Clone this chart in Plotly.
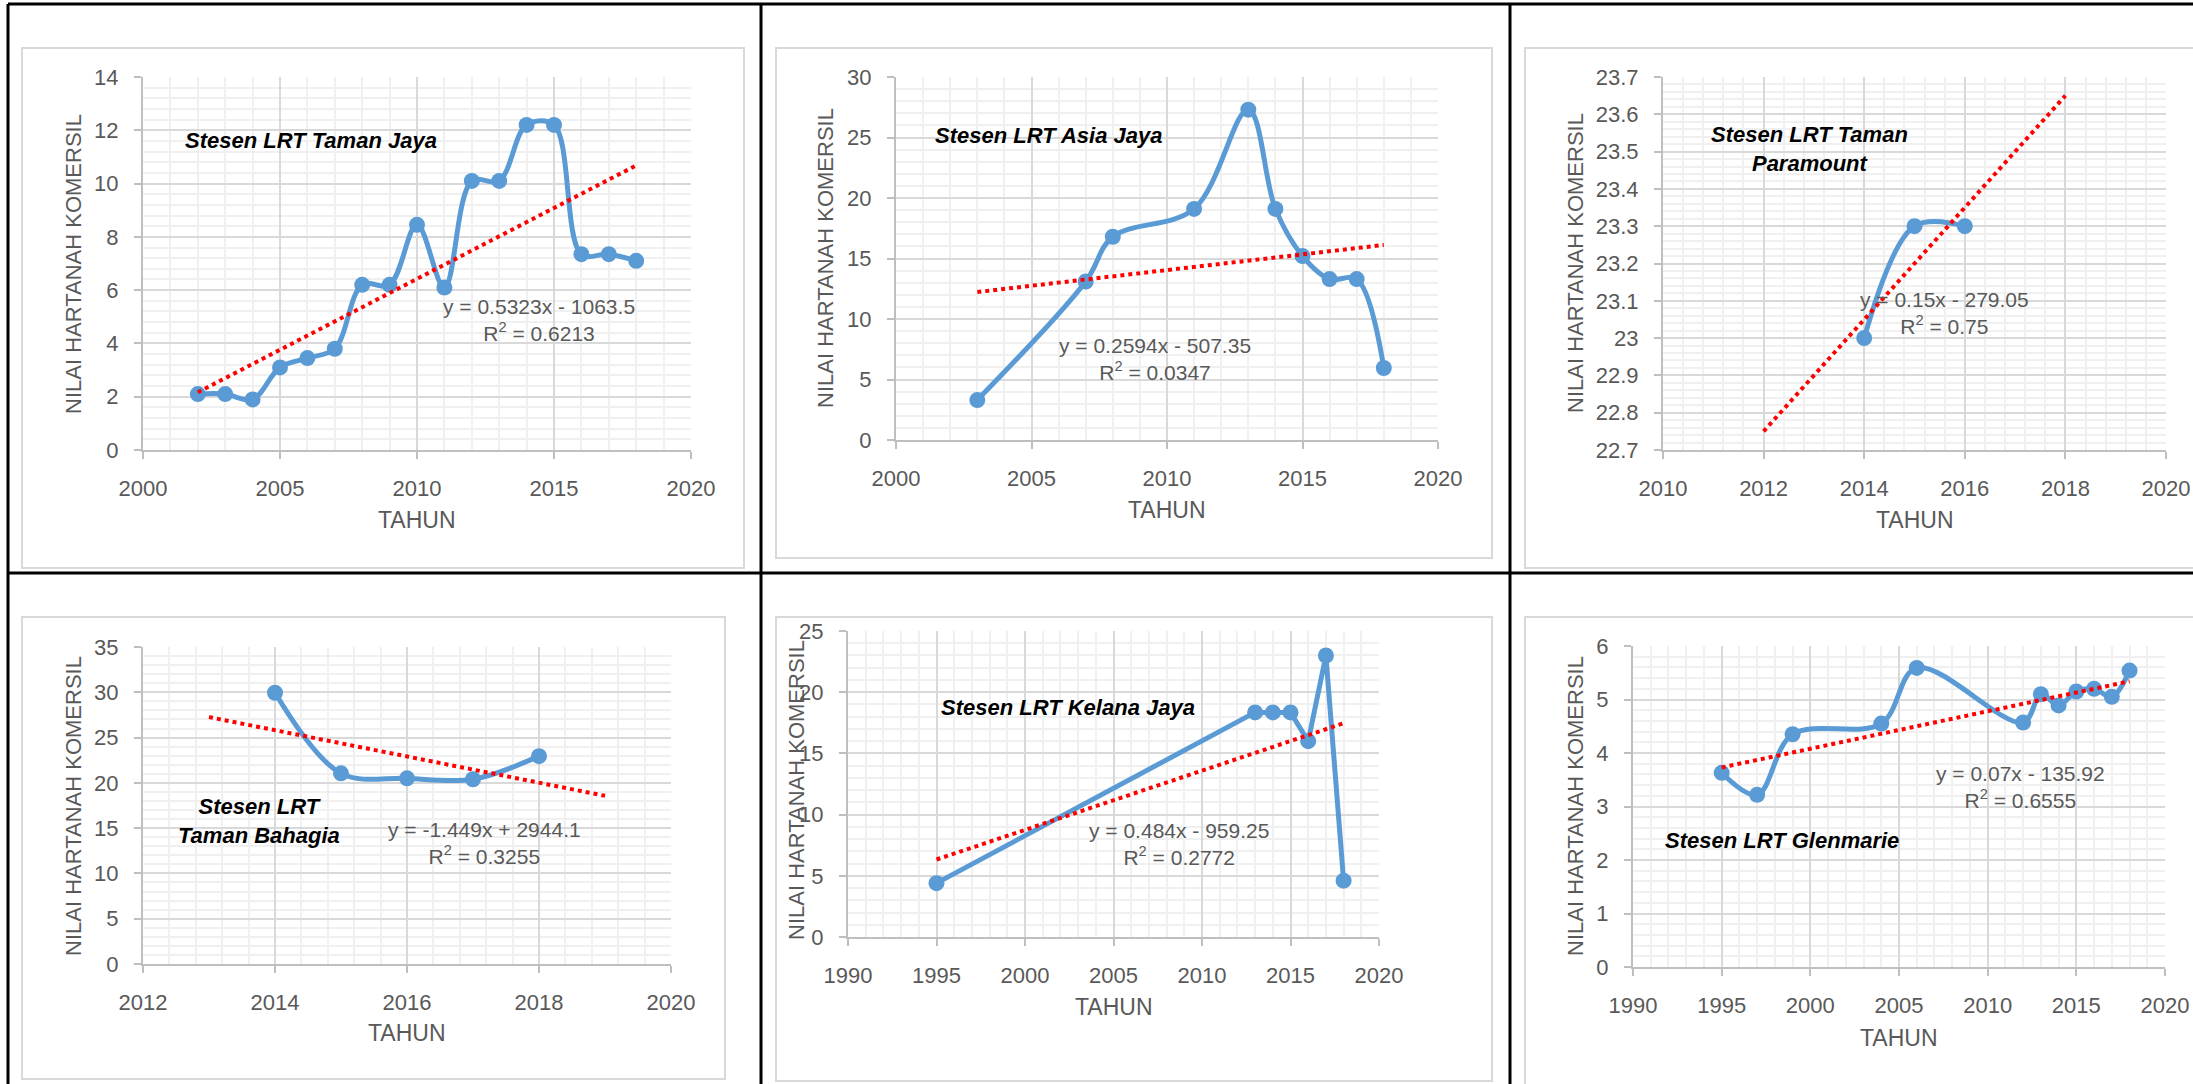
import plotly.graph_objects as go

# ---------------- DATA ----------------
tj_years = [2002, 2003, 2004, 2005, 2006, 2007, 2008, 2009, 2010, 2011, 2012, 2013, 2014, 2015, 2016, 2017, 2018]
tj_vals = [2.1, 2.1, 1.9, 3.1, 3.45, 3.8, 6.2, 6.2, 8.45, 6.1, 10.1, 10.1, 12.2, 12.2, 7.35, 7.35, 7.1]
tj_trend = {"slope": 0.5323, "intercept": -1063.5, "x": [2002, 2018], "r2": "0.6213"}

aj_years = [2003, 2007, 2008, 2011, 2013, 2014, 2015, 2016, 2017, 2018]
aj_vals = [3.3, 13.1, 16.8, 19.1, 27.3, 19.1, 15.2, 13.3, 13.3, 5.95]
aj_trend = {"slope": 0.2594, "intercept": -507.35, "x": [2003, 2018], "r2": "0.0347"}

tp_years = [2014, 2015, 2016]
tp_vals = [23.0, 23.3, 23.3]
tp_trend = {"slope": 0.15, "intercept": -279.05, "x": [2012, 2018], "r2": "0.75"}

tb_years = [2014, 2015, 2016, 2017, 2018]
tb_vals = [29.95, 21.05, 20.5, 20.4, 22.95]
tb_trend = {"slope": -1.449, "intercept": 2944.1, "x": [2013, 2019], "r2": "0.3255"}

kj_years = [1995, 2013, 2014, 2015, 2016, 2017, 2018]
kj_vals = [4.4, 18.35, 18.35, 18.35, 16.0, 23.0, 4.6]
kj_trend = {"slope": 0.484, "intercept": -959.25, "x": [1995, 2018], "r2": "0.2772"}

gm_years = [1995, 1997, 1999, 2004, 2006, 2012, 2013, 2014, 2015, 2016, 2017, 2018]
gm_vals = [3.63, 3.22, 4.35, 4.55, 5.59, 4.57, 5.10, 4.89, 5.15, 5.20, 5.05, 5.54]
gm_trend = {"slope": 0.07, "intercept": -135.92, "x": [1995, 2018], "r2": "0.6555"}

titles = [
    "Stesen LRT Taman Jaya",
    "Stesen LRT Asia Jaya",
    "Stesen LRT Taman<br>Paramount",
    "Stesen LRT<br>Taman Bahagia",
    "Stesen LRT Kelana Jaya",
    "Stesen LRT Glenmarie",
]
eq_texts = [
    "y = 0.5323x - 1063.5",
    "y = 0.2594x - 507.35",
    "y = 0.15x - 279.05",
    "y = -1.449x + 2944.1",
    "y = 0.484x - 959.25",
    "y = 0.07x - 135.92",
]
x_ranges = [[2000, 2020], [2000, 2020], [2010, 2020], [2012, 2020], [1990, 2020], [1990, 2020]]
x_dticks = [5, 5, 2, 2, 5, 5]
y_ranges = [[0, 14], [0, 30], [22.7, 23.7], [0, 35], [0, 25], [0, 6]]
y_dticks = [2, 5, 0.1, 5, 5, 1]
x_label = "TAHUN"
y_label = "NILAI HARTANAH KOMERSIL"

series = [
    (tj_years, tj_vals, tj_trend, "spline"),
    (aj_years, aj_vals, aj_trend, "spline"),
    (tp_years, tp_vals, tp_trend, "spline"),
    (tb_years, tb_vals, tb_trend, "spline"),
    (kj_years, kj_vals, kj_trend, "linear"),
    (gm_years, gm_vals, gm_trend, "spline"),
]

# ---------------- LAYOUT GEOMETRY (window pixels) ----------------
W, H = 2193, 1084
plots = [(143, 691, 77, 450), (896, 1438, 77, 440), (1663, 2166, 77, 450),
         (143, 671, 647, 964), (848, 1379, 631, 937), (1633, 2165, 646, 967)]
ytitle_pos = [(73, 264), (825, 258), (1575, 263), (73, 806), (796, 790), (1575, 806)]
xtitle_y = [520, 510, 520, 1033, 1007, 1038]
title_pos = [(311, 141), (1048, 135), (1809, 149), (259, 821), (1068, 707), (1782, 840)]
eq_pos = [(539, 320), (1155, 359), (1944, 313), (484, 843), (1179, 844), (2021, 787)]
areas = [(22, 744, 48, 568), (776, 1492, 48, 558), (1525, 2210, 48, 568),
         (22, 725, 617, 1079), (776, 1492, 617, 1081), (1525, 2210, 617, 1095)]
table_v = [8, 761, 1510]
table_h = [4, 573]

FONT = "Liberation Sans, Arial, sans-serif"
GRAY = "#595959"
BLUE = "#5B9BD5"


def px(x):
    return x / W


def py(y):
    return 1 - y / H


fig = go.Figure()
annotations = []
shapes = []

for i, (xs, ys, tr, shape) in enumerate(series):
    n = i + 1
    xa = "x" if n == 1 else f"x{n}"
    ya = "y" if n == 1 else f"y{n}"
    fig.add_trace(go.Scatter(
        x=xs, y=ys, mode="lines+markers", xaxis=xa, yaxis=ya,
        line=dict(color=BLUE, width=5, shape=shape, smoothing=1.0),
        marker=dict(color=BLUE, size=16), showlegend=False, cliponaxis=False,
    ))
    tx = tr["x"]
    ty = [tr["slope"] * v + tr["intercept"] for v in tx]
    fig.add_trace(go.Scatter(
        x=tx, y=ty, mode="lines", xaxis=xa, yaxis=ya,
        line=dict(color="#FF0000", width=4, dash="4px,4px"), showlegend=False,
    ))

    l, r, t, b = plots[i]
    xr = x_ranges[i]
    yr = y_ranges[i]
    eps = (yr[1] - yr[0]) * 1e-6
    common = dict(
        showline=True, linecolor="#BFBFBF", linewidth=2,
        ticks="outside", tickcolor="#BFBFBF", tickwidth=2, ticklen=7,
        showgrid=True, gridcolor="#D9D9D9", gridwidth=2, zeroline=False,
        tickfont=dict(family=FONT, size=22, color=GRAY),
        ticklabelstandoff=11, automargin=False,
    )
    fig.layout[f"xaxis{'' if n == 1 else n}"] = dict(
        domain=[px(l), px(r)], anchor=ya, range=[xr[0], xr[1] + 1e-6],
        dtick=x_dticks[i], tick0=0,
        minor=dict(dtick=x_dticks[i] / 5, showgrid=True, gridcolor="#F0F0F0", gridwidth=2, ticks=""),
        **common,
    )
    fig.layout[f"yaxis{'' if n == 1 else n}"] = dict(
        domain=[py(b), py(t)], anchor=xa, range=[yr[0] - eps, yr[1] + eps],
        dtick=y_dticks[i], tick0=0,
        minor=dict(dtick=y_dticks[i] / 5, showgrid=True, gridcolor="#F0F0F0", gridwidth=2, ticks=""),
        **common,
    )

    al, ar, at, ab = areas[i]
    shapes.append(dict(type="rect", xref="paper", yref="paper",
                       x0=px(al), x1=px(ar), y0=py(ab), y1=py(at),
                       line=dict(color="#D9D9D9", width=2), layer="below"))

    annotations.append(dict(xref="paper", yref="paper", x=px((l + r) / 2), y=py(xtitle_y[i]),
                            text=x_label, showarrow=False, xanchor="center", yanchor="middle",
                            font=dict(family=FONT, size=23, color=GRAY)))
    yx, yy = ytitle_pos[i]
    annotations.append(dict(xref="paper", yref="paper", x=px(yx), y=py(yy), textangle=-90,
                            text=y_label, showarrow=False, xanchor="center", yanchor="middle",
                            font=dict(family=FONT, size=22, color=GRAY)))
    tx0, ty0 = title_pos[i]
    annotations.append(dict(xref="paper", yref="paper", x=px(tx0), y=py(ty0),
                            text=f"<b><i>{titles[i]}</i></b>", showarrow=False,
                            xanchor="center", yanchor="middle", align="center",
                            font=dict(family=FONT, size=22, color="black")))
    ex, ey = eq_pos[i]
    annotations.append(dict(xref="paper", yref="paper", x=px(ex), y=py(ey),
                            text=f"{eq_texts[i]}<br>R<sup>2</sup> = {tr['r2']}", showarrow=False,
                            xanchor="center", yanchor="middle", align="center",
                            font=dict(family=FONT, size=21, color=GRAY)))

for vx in table_v:
    shapes.append(dict(type="line", xref="paper", yref="paper", x0=px(vx), x1=px(vx),
                       y0=-0.05, y1=py(table_h[0]), line=dict(color="black", width=3)))
for hy in table_h:
    shapes.append(dict(type="line", xref="paper", yref="paper", x0=px(table_v[0]), x1=1.05,
                       y0=py(hy), y1=py(hy), line=dict(color="black", width=3)))

fig.update_layout(
    width=W, height=H, margin=dict(l=0, r=0, t=0, b=0, autoexpand=False),
    paper_bgcolor="white", plot_bgcolor="white",
    annotations=annotations, shapes=shapes, showlegend=False,
)

fig.write_html("out.html", config={"displayModeBar": False},
               post_script="document.body.style.margin='0';document.body.style.overflow='hidden';")
